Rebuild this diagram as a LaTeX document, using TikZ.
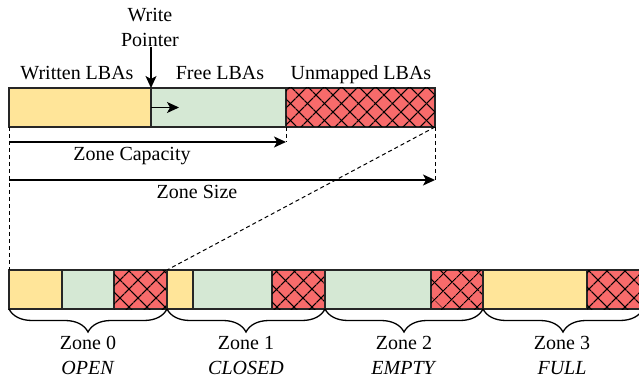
\documentclass[tikz,border=0pt]{standalone}
\usepackage{fontspec}
\setmainfont{Liberation Serif}
\usepackage{tikz}
\usetikzlibrary{positioning}
\usetikzlibrary{arrows.meta}
\usetikzlibrary{patterns.meta}
\usetikzlibrary{decorations.pathreplacing}

\definecolor{wyellow}{HTML}{FFE599}
\definecolor{fgreen}{HTML}{D5E8D4}
\definecolor{ured}{HTML}{F86B6B}

\begin{document}
\begin{tikzpicture}[x=1pt,y=-1pt,
  font=\fontsize{20}{25}\selectfont,
  seg/.style={draw=black!85,line width=1.3pt,inner sep=0pt,outer sep=0pt,minimum height=39pt},
  written/.style={seg,fill=wyellow},
  free/.style={seg,fill=fgreen},
  unmapped/.style={seg,fill=ured,
    postaction={pattern={Lines[angle=45,distance=13pt,line width=1.2pt]}},
    postaction={pattern={Lines[angle=-45,distance=13pt,line width=1.2pt]}}},
  lbl/.style={inner sep=0pt,anchor=base},
  arr/.style={-{Stealth[length=12pt,width=11pt,inset=3pt]},line width=1.3pt},
  guide/.style={line width=1pt,dash pattern=on 4pt off 3pt},
  zbrace/.style={decorate,decoration={brace,mirror,amplitude=23pt},line width=1.3pt}
]
\useasboundingbox (0,0) rectangle (639,379);

% one zone in detail
\node[written,minimum width=142pt,anchor=north west] (tw) at (9,88) {};
\node[free,minimum width=135pt,right=0pt of tw] (tf) {};
\node[unmapped,minimum width=149pt,right=0pt of tf] (tu) {};

\node[lbl] (lw) at (77,80) {Written LBAs};
\node[lbl] (lf) at (220,80) {Free LBAs};
\node[lbl] (lu) at (361,80) {Unmapped LBAs};

\node[lbl,align=center,anchor=south] (wp) at (150,47) {Write\\Pointer};
\draw[arr] (tw.north east |- wp.south) -- (tw.north east);

\coordinate (wdir) at (179,107.5);
\draw[arr] (tw.east) -- (wdir);

% capacity and size
\coordinate (capL) at (9,142);
\coordinate (capR) at (286,142);
\coordinate (sizeL) at (9,180);
\coordinate (sizeR) at (435,180);
\draw[arr] (capL) -- (capR);
\draw[arr] (sizeL) -- (sizeR);
\node[lbl] (capT) at (132,161) {Zone Capacity};
\node[lbl] (sizeT) at (197,199) {Zone Size};

% all zones
\node[written,minimum width=53pt,anchor=north west] (z0w) at (9,270) {};
\node[free,minimum width=52pt,right=0pt of z0w] (z0f) {};
\node[unmapped,minimum width=53pt,right=0pt of z0f] (z0u) {};
\node[written,minimum width=26pt,right=0pt of z0u] (z1w) {};
\node[free,minimum width=79pt,right=0pt of z1w] (z1f) {};
\node[unmapped,minimum width=53pt,right=0pt of z1f] (z1u) {};
\node[free,minimum width=106pt,right=0pt of z1u] (z2f) {};
\node[unmapped,minimum width=52pt,right=0pt of z2f] (z2u) {};
\node[written,minimum width=104pt,right=0pt of z2u] (z3w) {};
\node[unmapped,minimum width=56pt,right=0pt of z3w] (z3u) {};

\draw[guide] (tw.south west) -- (z0w.north west);
\draw[guide] (tf.south east) -- (capR);
\draw[guide] (tu.south east) -- (sizeR);
\draw[guide] (tu.south east) -- (z0u.north east);

\draw[zbrace] (z0w.south west) -- (z0u.south east);
\draw[zbrace] (z1w.south west) -- (z1u.south east);
\draw[zbrace] (z2f.south west) -- (z2u.south east);
\draw[zbrace] (z3w.south west) -- (z3u.south east);

\node[lbl,align=center,anchor=north] (z0) at (88,336) {Zone 0\\\textit{OPEN}};
\node[lbl,align=center,anchor=north] (z1) at (246,336) {Zone 1\\\textit{CLOSED}};
\node[lbl,align=center,anchor=north] (z2) at (404,336) {Zone 2\\\textit{EMPTY}};
\node[lbl,align=center,anchor=north] (z3) at (562,336) {Zone 3\\\textit{FULL}};

\end{tikzpicture}
\end{document}
